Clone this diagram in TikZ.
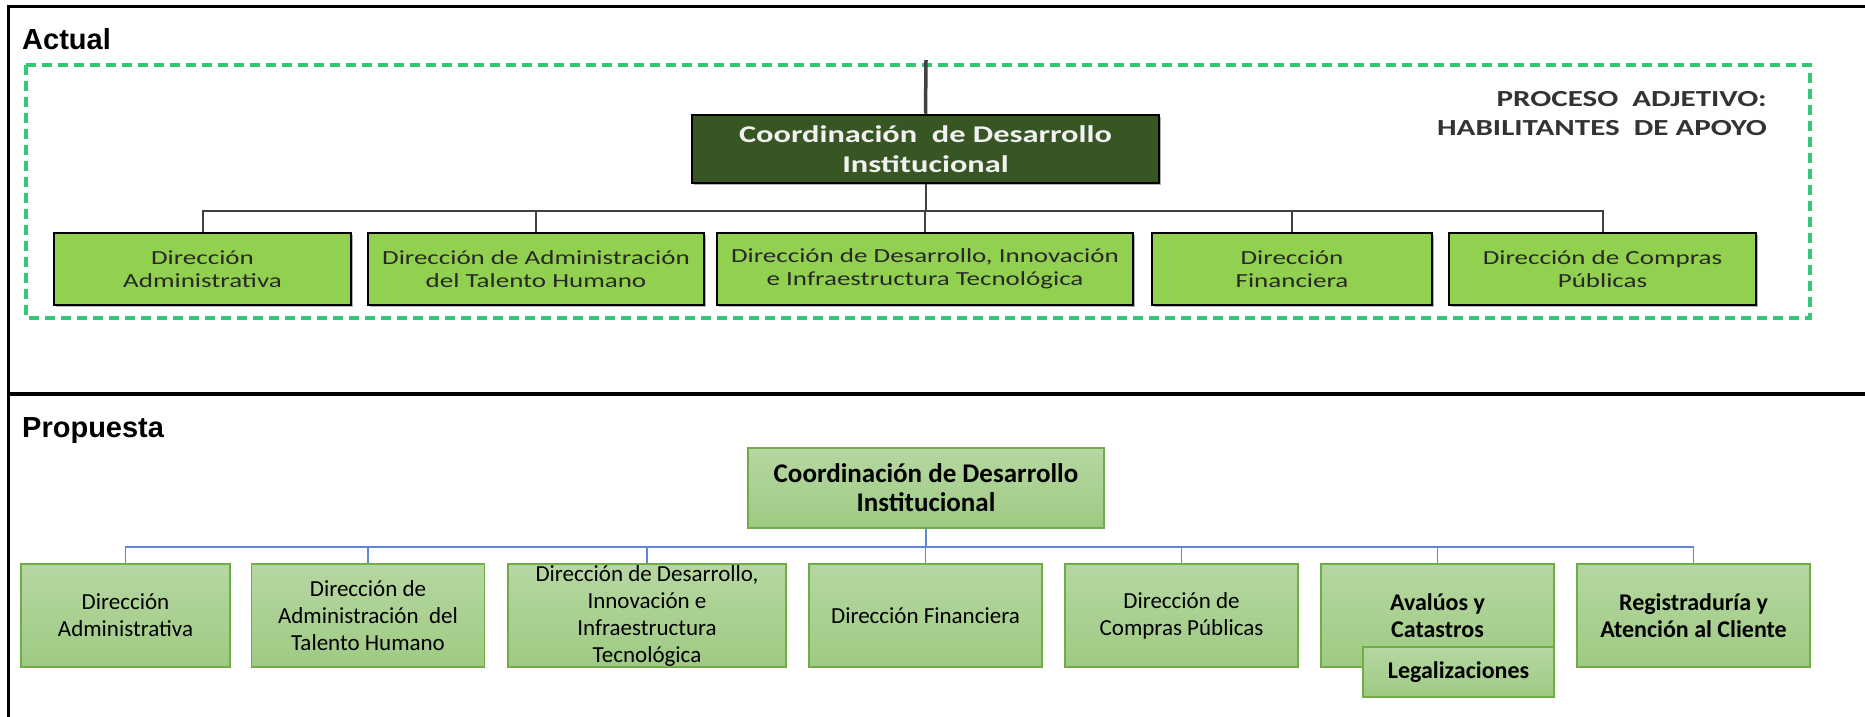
\documentclass[tikz,border=0pt]{standalone}
\usepackage{fontspec}
\setmainfont{Carlito}
\newfontfamily\kopffont{Liberation Sans}
\newfontfamily\altfont{Carlito}[FakeStretch=1.35]
\usetikzlibrary{shadows}

\definecolor{altgruen}{RGB}{146,208,80}
\definecolor{dunkelgruen}{RGB}{55,86,35}
\definecolor{strichgruen}{RGB}{50,200,120}
\definecolor{neuoben}{RGB}{182,215,161}
\definecolor{neuunten}{RGB}{158,202,131}
\definecolor{neurand}{RGB}{112,173,71}
\definecolor{linienblau}{RGB}{95,135,215}
\definecolor{textgrau}{RGB}{40,40,40}

\tikzset{
    altbox/.style={draw=black, line width=2.5pt, fill=altgruen, inner sep=0pt,
        minimum height=72pt, align=center, text=textgrau,
        font=\altfont\fontsize{20}{23}\selectfont,
        drop shadow={shadow xshift=2pt, shadow yshift=-2pt, fill=black, opacity=0.3}},
    chefbox/.style={draw=black, line width=2.5pt, fill=dunkelgruen, inner sep=0pt,
        minimum width=467pt, minimum height=68pt, align=center, text=white!95!black,
        font=\altfont\bfseries\fontsize{24}{30}\selectfont,
        drop shadow={shadow xshift=2pt, shadow yshift=-2pt, fill=black, opacity=0.3}},
    neubox/.style={draw=neurand, line width=1.5pt, top color=neuoben, bottom color=neuunten,
        inner sep=0pt, minimum width=233pt, minimum height=103pt, align=center,
        font=\fontsize{23}{27}\selectfont},
    neufett/.style={neubox, font=\bfseries\fontsize{24}{27}\selectfont},
    altlinie/.style={draw=black!75, line width=2pt},
    neulinie/.style={draw=linienblau, line width=1.5pt},
    kopf/.style={anchor=base west, inner sep=0pt, font=\kopffont\bfseries\fontsize{29}{34}\selectfont}
}

\begin{document}
\begin{tikzpicture}[x=1pt, y=-1pt]
    \useasboundingbox (0,0) rectangle (1865,717);

    % Rahmen und Trennlinie
    \draw[line width=3.5pt] (1865,6.5) -- (8.5,6.5) -- (8.5,717);
    \draw[line width=3.5pt] (8.5,394) -- (1865,394);

    % Ueberschriften
    \node[kopf] (actual) at (22,50) {Actual};
    \node[kopf] (propuesta) at (22,437) {Propuesta};

    % Gestrichelter Bereich
    \draw[strichgruen, line width=3.5pt, dash pattern=on 10pt off 6pt] (26,65) rectangle (1810,318);
    \node[anchor=east, align=right, inner sep=0pt, text=black!80,
        font=\altfont\bfseries\fontsize{23}{29}\selectfont] (proceso) at (1767,113.5)
        {PROCESO\ \ ADJETIVO:\\HABILITANTES\ \ DE APOYO};

    % Struktur aktuell
    \coordinate (oben) at (926,60);
    \node[chefbox] (chef) at (925.5,149) {Coordinación\ \ de Desarrollo\\Institucional};
    \node[altbox, minimum width=297pt] (a1) at (202.5,269) {Dirección\\Administrativa};
    \node[altbox, minimum width=336pt] (a2) at (536,269) {Dirección de Administración\\del Talento Humano};
    \node[altbox, minimum width=416pt] (a3) at (925,269) {Dirección de Desarrollo, Innovación\\e Infraestructura Tecnológica};
    \node[altbox, minimum width=280pt] (a4) at (1292,269) {Dirección\\Financiera};
    \node[altbox, minimum width=307pt] (a5) at (1602.5,269) {Dirección de Compras\\Públicas};

    \draw[altlinie, line width=3.5pt] (oben) -- (chef.north);
    \foreach \n in {a1,a2,a3,a4,a5} {
        \draw[altlinie] (chef.south) -- ++(0,27) -| (\n.north);
    }

    % Struktur Vorschlag
    \node[neufett, minimum width=356pt, minimum height=80pt, font=\bfseries\fontsize{27}{29}\selectfont]
        (koord) at (926,488) {Coordinación de Desarrollo\\Institucional};
    \node[neubox, minimum width=209pt] (p1) at (125.5,615.5) {Dirección\\Administrativa};
    \node[neubox] (p2) at (368,615.5) {Dirección de\\Administración\ \ del\\Talento Humano};
    \node[neubox, minimum width=278pt] (p3) at (647,615.5) {Dirección de Desarrollo,\\Innovación e\\Infraestructura\\Tecnológica};
    \node[neubox] (p4) at (925.5,615.5) {Dirección Financiera};
    \node[neubox] (p5) at (1181.5,615.5) {Dirección de\\Compras Públicas};
    \node[neufett] (p6) at (1437.5,615.5) {Avalúos y\\Catastros};
    \node[neufett] (p7) at (1693.5,615.5) {Registraduría y\\Atención al Cliente};
    \node[neufett, minimum width=191pt, minimum height=50pt] (leg) at (1458.5,672) {Legalizaciones};

    \foreach \n in {p1,p2,p3,p4,p5,p6,p7} {
        \draw[neulinie] (koord.south) -- ++(0,18) -| (\n.north);
    }
\end{tikzpicture}
\end{document}
